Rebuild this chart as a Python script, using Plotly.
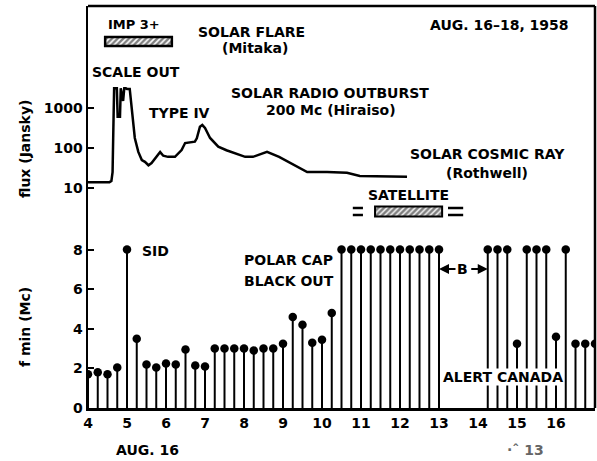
import plotly.graph_objects as go

# ---------------- data ----------------
# Solar radio outburst, 200 Mc (Hiraiso): time (h, Aug 16) and flux (Jansky)
flux_hours = [4.0, 4.55, 4.6, 4.63, 4.65, 4.67, 4.74, 4.76, 4.82, 4.84, 4.9, 4.93, 4.97,
              5.0, 5.07, 5.1, 5.13, 5.2, 5.29, 5.38, 5.46, 5.55, 5.63, 5.76, 5.85, 5.93,
              6.05, 6.23, 6.4, 6.49, 6.66, 6.74, 6.79, 6.87, 6.93, 7.0, 7.13, 7.34, 7.55,
              7.77, 8.03, 8.23, 8.4, 8.59, 8.9, 9.18, 9.4, 9.62, 10.13, 10.64, 10.97,
              11.5, 12.18]
flux_jansky = [14, 14, 15, 25, 300, 3100, 3100, 600, 600, 3100, 1500, 3100, 3100,
               3000, 3000, 1500, 1000, 178, 80, 50, 45, 37, 42, 60, 79, 64,
               60, 60, 89, 133, 144, 144, 174, 340, 375, 316, 178, 108, 88,
               74, 60, 60, 68, 80, 60, 42, 32, 25, 25, 24, 20,
               19.5, 19]

# Ionosonde f min (Mc)
fmin_hours = [4.0, 4.25, 4.5, 4.75, 5.0, 5.25, 5.5, 5.75, 6.0, 6.25, 6.5, 6.75,
              7.0, 7.25, 7.5, 7.75, 8.0, 8.25, 8.5, 8.75, 9.0, 9.25, 9.5, 9.75,
              10.0, 10.25, 10.5, 10.75, 11.0, 11.25, 11.5, 11.75, 12.0, 12.25,
              12.5, 12.75, 13.0,
              14.25, 14.5, 14.75, 15.0, 15.25, 15.5, 15.75, 16.0, 16.25, 16.5,
              16.75, 17.0]
fmin_mc = [1.7, 1.8, 1.7, 2.05, 8.0, 3.5, 2.2, 2.05, 2.25, 2.2, 2.95, 2.15,
           2.1, 3.0, 3.0, 3.0, 3.0, 2.9, 3.0, 3.0, 3.25, 4.6, 4.2, 3.3,
           3.45, 4.8, 8, 8, 8, 8, 8, 8, 8, 8,
           8, 8, 8,
           8, 8, 8, 3.25, 8, 8, 8, 3.6, 8, 3.25,
           3.25, 3.25]

x_tick_values = [4, 5, 6, 7, 8, 9, 10, 11, 12, 13, 14, 15, 16]
flux_tick_values = [10, 100, 1000]
flux_tick_labels = ["10", "100", "1000"]
fmin_tick_values = [0, 2, 4, 6, 8]

imp_flare_hours = [4.44, 6.15]          # IMP 3+ solar flare (Mitaka)
satellite_hours = [11.36, 13.08]        # satellite solar cosmic ray
satellite_left_dash = [10.79, 11.05]
satellite_right_dash = [13.23, 13.62]
blackout_b_hours = [13.0, 14.25]        # "B" interval

# ---------------- layout helpers ----------------
W, H = 597, 461
L, R, T, B = 88, 2, 6, 53
PW, PH = W - L - R, H - T - B


def pxx(x):
    return (x - L) / PW


def pxy(y):
    return (H - B - y) / PH


FONT = "DejaVu Sans"
split = pxy(210)

fig = go.Figure()

# flux curve (upper panel)
fig.add_trace(go.Scatter(x=flux_hours, y=flux_jansky, xaxis="x", yaxis="y2",
                         mode="lines", line=dict(color="black", width=2.5),
                         hoverinfo="skip"))

# stems (lower panel)
sx, sy = [], []
for h, v in zip(fmin_hours, fmin_mc):
    sx += [h, h, None]
    sy += [0, v, None]
fig.add_trace(go.Scatter(x=sx, y=sy, xaxis="x", yaxis="y", mode="lines",
                         line=dict(color="black", width=2), hoverinfo="skip"))
fig.add_trace(go.Scatter(x=fmin_hours, y=fmin_mc, xaxis="x", yaxis="y",
                         mode="markers", marker=dict(color="black", size=8.5),
                         hoverinfo="skip"))

# hatched bars on overlay axis y3 (paper-like units)
fig.add_trace(go.Bar(x=[imp_flare_hours[1] - imp_flare_hours[0]], base=[imp_flare_hours[0]],
                     y=[pxy(41.5)], width=[9 / PH], orientation="h",
                     xaxis="x", yaxis="y3",
                     marker=dict(color="white",
                                 line=dict(color="black", width=2.5),
                                 pattern=dict(shape="/", fgcolor="black", bgcolor="white",
                                              size=4, solidity=0.6)),
                     hoverinfo="skip"))
fig.add_trace(go.Bar(x=[satellite_hours[1] - satellite_hours[0]], base=[satellite_hours[0]],
                     y=[pxy(211.5)], width=[10 / PH], orientation="h",
                     xaxis="x", yaxis="y3",
                     marker=dict(color="white",
                                 line=dict(color="black", width=2),
                                 pattern=dict(shape="/", fgcolor="black", bgcolor="white",
                                              size=4, solidity=0.65)),
                     hoverinfo="skip"))
for seg in (satellite_left_dash, satellite_right_dash):
    for yy in (208, 215):
        fig.add_trace(go.Scatter(x=seg, y=[pxy(yy), pxy(yy)], xaxis="x", yaxis="y3",
                                 mode="lines", line=dict(color="black", width=2.5),
                                 hoverinfo="skip"))

fig.update_layout(
    width=W, height=H,
    margin=dict(l=L, r=R, t=T, b=B, autoexpand=False),
    paper_bgcolor="white", plot_bgcolor="rgba(0,0,0,0)",
    showlegend=False, bargap=0, hovermode=False,
    font=dict(family=FONT, size=14, color="black", weight="bold"),
    xaxis=dict(range=[4, 17], anchor="y", showline=True, linecolor="black", linewidth=3,
               tickvals=x_tick_values, ticks="", showgrid=False, zeroline=False,
               tickfont=dict(family=FONT, size=14, color="black", weight="bold")),
    yaxis=dict(domain=[0, split], range=[0, 10], anchor="x", showline=True,
               linecolor="black", linewidth=2.5, tickvals=fmin_tick_values,
               ticks="inside", ticklen=6, tickwidth=2, tickcolor="black",
               showgrid=False, zeroline=False,
               tickfont=dict(family=FONT, size=14, color="black", weight="bold")),
    yaxis2=dict(domain=[split, 1], type="log", range=[0.45, 5.55], anchor="x",
                showline=True, linecolor="black", linewidth=2.5,
                tickvals=flux_tick_values, ticktext=flux_tick_labels,
                ticks="inside", ticklen=6, tickwidth=2, tickcolor="black",
                showgrid=False, zeroline=False,
                tickfont=dict(family=FONT, size=14, color="black", weight="bold")),
    yaxis3=dict(domain=[0, 1], range=[0, 1], anchor="x", visible=False,
                showgrid=False, zeroline=False),
)

# box top and right borders
fig.add_shape(type="line", xref="paper", yref="paper", x0=0, x1=1, y0=1, y1=1,
              line=dict(color="black", width=2.5))
fig.add_shape(type="line", xref="paper", yref="paper", x0=1, x1=1, y0=1, y1=0,
              line=dict(color="black", width=2.5))

texts = [
    ("IMP 3+", 134, 25, 13),
    ("SOLAR FLARE", 251, 32, 14),
    ("(Mitaka)", 255, 48, 14),
    ("AUG. 16\u201318, 1958", 499, 25, 14),
    ("SCALE OUT", 136, 72, 14),
    ("TYPE IV", 179, 113, 14),
    ("SOLAR RADIO OUTBURST", 330, 93, 14),
    ("200 Mc (Hiraiso)", 331, 110, 14),
    ("SOLAR COSMIC RAY", 487, 154, 14),
    ("(Rothwell)", 487, 173, 14),
    ("SATELLITE", 408, 195, 14),
    ("SID", 155, 251, 14),
    ("POLAR CAP", 288, 260, 14),
    ("BLACK OUT", 289, 281, 14),
    ("B", 462, 269, 14),
    ("AUG. 16", 147, 450, 14),
]
for t, x, y, s in texts:
    fig.add_annotation(text=t, x=pxx(x), y=pxy(y), xref="paper", yref="paper",
                       xanchor="center", yanchor="middle", showarrow=False,
                       font=dict(family=FONT, size=s, color="black", weight="bold"))

fig.add_annotation(text="ALERT CANADA", x=pxx(503), y=pxy(377), xref="paper", yref="paper",
                   xanchor="center", yanchor="middle", showarrow=False, bgcolor="white",
                   borderpad=0,
                   font=dict(family=FONT, size=14, color="black", weight="bold"))
fig.add_annotation(text="\u00b7\u02c6 13", x=pxx(525), y=pxy(450), xref="paper", yref="paper",
                   xanchor="center", yanchor="middle", showarrow=False,
                   font=dict(family=FONT, size=14, color="#666", weight="bold"))

# B arrows
fig.add_annotation(x=blackout_b_hours[0], y=pxy(269), xref="x", yref="paper",
                   ax=18, ay=0, text="", showarrow=True, arrowhead=2, arrowsize=1,
                   arrowwidth=2, arrowcolor="black")
fig.add_annotation(x=blackout_b_hours[1], y=pxy(269), xref="x", yref="paper",
                   ax=-18, ay=0, text="", showarrow=True, arrowhead=2, arrowsize=1,
                   arrowwidth=2, arrowcolor="black")

# axis titles
fig.add_annotation(text="flux (Jansky)", x=pxx(25), y=pxy(149), xref="paper", yref="paper",
                   textangle=-90, showarrow=False, xanchor="center", yanchor="middle",
                   font=dict(family=FONT, size=14, color="black", weight="bold"))
fig.add_annotation(text="f min (Mc)", x=pxx(25), y=pxy(327), xref="paper", yref="paper",
                   textangle=-90, showarrow=False, xanchor="center", yanchor="middle",
                   font=dict(family=FONT, size=14, color="black", weight="bold"))

fig.write_html("out.html",
               config={"displayModeBar": False, "staticPlot": True},
               post_script="document.body.style.margin='0px';"
                           "document.body.style.padding='0px';")
